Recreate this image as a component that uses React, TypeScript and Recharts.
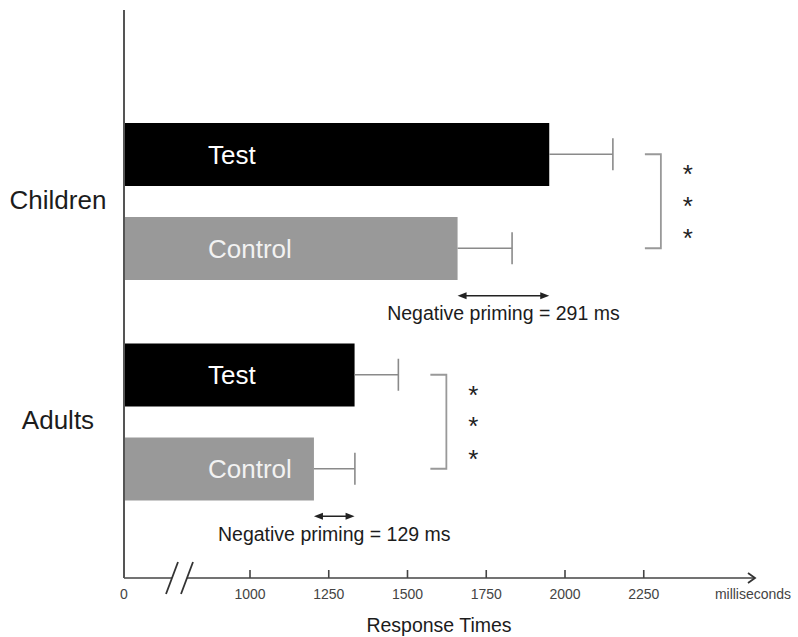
import React from 'react';
import { BarChart, Bar, XAxis, YAxis, ReferenceLine, LabelList } from 'recharts';

// ---- data ----
const groups = ['Children', 'Adults'];
const seriesNames = ['Test', 'Control'];
const testMeans = [1950, 1332];
const controlMeans = [1659, 1203];
const testErrors = [202, 139];
const controlErrors = [173, 130];
const primingEffects = [291, 129];
const xTicks = [600, 1000, 1250, 1500, 1750, 2000, 2250, 2600];
const xTickLabels = ['0', '1000', '1250', '1500', '1750', '2000', '2250', 'milliseconds'];
const xDomain: [number, number] = [600, 2600];

// ---- layout / style ----
const FONT = '"Liberation Sans", Arial, Helvetica, sans-serif';
const W = 798;
const H = 637;
const BAR_SIZE = 63;
const BAR_GAP = 31;
const HALF_PITCH = (BAR_SIZE + BAR_GAP) / 2;
const TEXT = '#1c1c1c';

const data = groups.map((g, i) => ({ group: g, test: testMeans[i], control: controlMeans[i] }));

function XTick(props: any) {
  const { x, y, payload } = props;
  const v = payload.value;
  const idx = xTicks.indexOf(v);
  const label = idx >= 0 ? xTickLabels[idx] : String(v);
  const axisY = y;
  const isFirst = v === xTicks[0];
  const isLast = v === xTicks[xTicks.length - 1];
  return (
    <g>
      {isFirst && (
        <g>
          <rect x={x + 48} y={axisY - 2} width={15} height={4} fill="#fff" />
          <line x1={x + 54} y1={axisY - 16} x2={x + 42} y2={axisY + 16} stroke="#333" strokeWidth={1.8} />
          <line x1={x + 69} y1={axisY - 16} x2={x + 57} y2={axisY + 16} stroke="#333" strokeWidth={1.8} />
        </g>
      )}
      {isLast && (
        <polyline
          points={`${x - 6},${axisY - 5} ${x + 1},${axisY} ${x - 6},${axisY + 5}`}
          fill="none"
          stroke="#333"
          strokeWidth={1.8}
        />
      )}
      {!isFirst && !isLast && (
        <line x1={x} y1={axisY} x2={x} y2={axisY - 8} stroke="#444" strokeWidth={1.6} />
      )}
      <text
        x={isLast ? x - 1 : x}
        y={axisY + 21}
        textAnchor="middle"
        fontSize={14}
        fill="#444"
        fontFamily={FONT}
      >
        {label}
      </text>
    </g>
  );
}

function YTick(props: any) {
  const { y, payload } = props;
  return (
    <text x={58} y={y + 7.5} textAnchor="middle" fontSize={26} fill={TEXT} fontFamily={FONT}>
      {payload.value}
    </text>
  );
}

const errorShape = (dy: number) => (p: any) => {
  const cy = p.y1 + dy;
  return (
    <g>
      <line x1={p.x1} y1={cy} x2={p.x2} y2={cy} stroke="#8a8a8a" strokeWidth={1.6} />
      <line x1={p.x2} y1={cy - 16} x2={p.x2} y2={cy + 16} stroke="#8a8a8a" strokeWidth={1.6} />
    </g>
  );
};

const primingShape = (ms: number) => (p: any) => {
  const ay = p.y1 + 94.5;
  const xa = Math.min(p.x1, p.x2);
  const xb = Math.max(p.x1, p.x2);
  return (
    <g>
      <line x1={xa + 4} y1={ay} x2={xb - 4} y2={ay} stroke="#222" strokeWidth={1.4} />
      <polygon points={`${xa},${ay} ${xa + 9},${ay - 3.5} ${xa + 9},${ay + 3.5}`} fill="#222" />
      <polygon points={`${xb},${ay} ${xb - 9},${ay - 3.5} ${xb - 9},${ay + 3.5}`} fill="#222" />
      <text
        x={(xa + xb) / 2}
        y={p.y1 + 119}
        textAnchor="middle"
        fontSize={19.5}
        fill={TEXT}
        fontFamily={FONT}
      >
        {`Negative priming = ${ms} ms`}
      </text>
    </g>
  );
};

const bracketShape = (p: any) => {
  const X = p.x1;
  const cy = p.y1;
  const top = cy - HALF_PITCH;
  const bot = cy + HALF_PITCH;
  return (
    <g>
      <polyline
        points={`${X + 32},${top} ${X + 48},${top} ${X + 48},${bot} ${X + 32},${bot}`}
        fill="none"
        stroke="#999"
        strokeWidth={1.8}
      />
      {[-33, -1.5, 31].map((d, k) => (
        <text
          key={k}
          x={X + 75}
          y={cy + d + 15}
          textAnchor="middle"
          fontSize={26}
          fill="#222"
          fontFamily={FONT}
        >
          *
        </text>
      ))}
    </g>
  );
};

export default function App() {
  return (
    <div style={{ position: 'absolute', left: 0, top: 0, width: W, height: H, background: '#fff' }}>
      <BarChart
        width={W}
        height={H}
        data={data}
        layout="vertical"
        margin={{ top: 10, right: 44, bottom: 0, left: 0 }}
        barSize={BAR_SIZE}
        barGap={BAR_GAP}
        style={{ fontFamily: FONT }}
      >
        <XAxis
          type="number"
          domain={xDomain}
          allowDataOverflow
          ticks={xTicks}
          interval={0}
          tick={<XTick />}
          tickLine={false}
          tickSize={0}
          tickMargin={0}
          height={59}
          axisLine={{ stroke: '#444', strokeWidth: 1.6 }}
          label={{ value: 'Response Times', position: 'insideBottom', offset: 5, fill: TEXT, fontSize: 19.5, fontFamily: FONT }}
        />
        <YAxis
          type="category"
          dataKey="group"
          width={124}
          tickLine={false}
          tick={<YTick />}
          axisLine={{ stroke: '#555', strokeWidth: 2 }}
          padding={{ top: 81, bottom: 46 }}
        />
        <Bar dataKey="test" name={seriesNames[0]} fill="#000" isAnimationActive={false}>
          <LabelList
            dataKey="test"
            position="insideLeft"
            offset={84}
            formatter={() => seriesNames[0]}
            fill="#ffffff"
            fontSize={26}
            fontFamily={FONT}
          />
        </Bar>
        <Bar dataKey="control" name={seriesNames[1]} fill="#999999" isAnimationActive={false}>
          <LabelList
            dataKey="control"
            position="insideLeft"
            offset={84}
            formatter={() => seriesNames[1]}
            fill="#f2f2f2"
            fontSize={26}
            fontFamily={FONT}
          />
        </Bar>
        {groups.map((g, i) => (
          <ReferenceLine
            key={`te-${g}`}
            segment={[{ x: testMeans[i], y: g }, { x: testMeans[i] + testErrors[i], y: g }]}
            shape={errorShape(-HALF_PITCH)}
            ifOverflow="visible"
          />
        ))}
        {groups.map((g, i) => (
          <ReferenceLine
            key={`ce-${g}`}
            segment={[{ x: controlMeans[i], y: g }, { x: controlMeans[i] + controlErrors[i], y: g }]}
            shape={errorShape(HALF_PITCH)}
            ifOverflow="visible"
          />
        ))}
        {groups.map((g, i) => (
          <ReferenceLine
            key={`pr-${g}`}
            segment={[{ x: controlMeans[i], y: g }, { x: testMeans[i], y: g }]}
            shape={primingShape(primingEffects[i])}
            ifOverflow="visible"
          />
        ))}
        {groups.map((g, i) => {
          const xm = Math.max(testMeans[i] + testErrors[i], controlMeans[i] + controlErrors[i]);
          return (
            <ReferenceLine
              key={`br-${g}`}
              segment={[{ x: xm, y: g }, { x: xm, y: g }]}
              shape={bracketShape}
              ifOverflow="visible"
            />
          );
        })}
      </BarChart>
    </div>
  );
}
